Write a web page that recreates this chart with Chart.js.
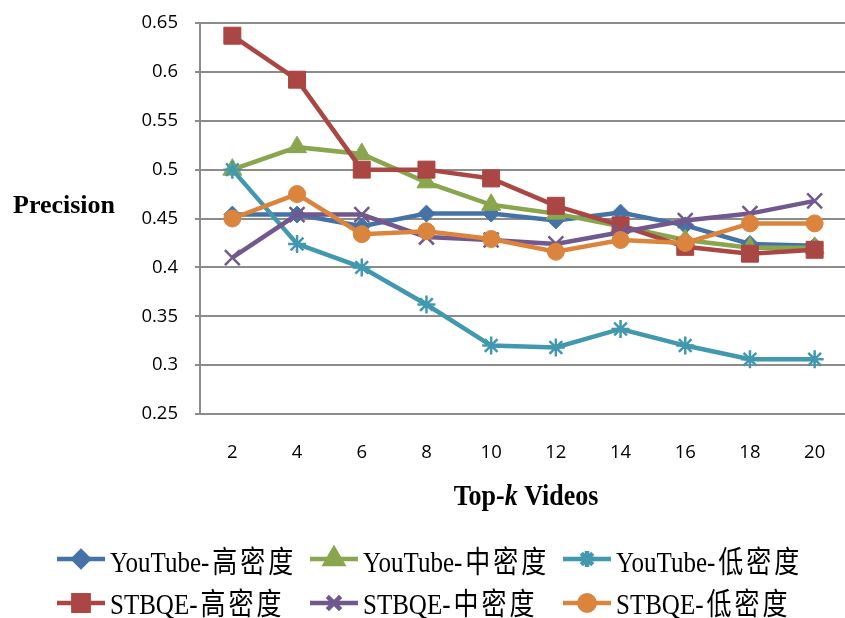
<!DOCTYPE html>
<html>
<head>
<meta charset="utf-8">
<script src="https://cdn.jsdelivr.net/npm/chart.js@4/dist/chart.umd.min.js"></script>
<style>
  html, body { margin: 0; padding: 0; background: #fff; overflow: hidden; }
  #wrap { width: 845px; height: 618px; overflow: hidden; }
  canvas { display: block; }
</style>
</head>
<body>
<div id="wrap"><canvas id="c" width="860" height="618" style="width:860px;height:618px"></canvas></div>
<script>
// Top-k values on the horizontal axis
const kValues = ['2', '4', '6', '8', '10', '12', '14', '16', '18', '20'];

// Precision for each method / density
const youtubeHigh = [0.454, 0.454, 0.442, 0.455, 0.455, 0.448, 0.456, 0.443, 0.424, 0.422];
const youtubeMid  = [0.500, 0.523, 0.516, 0.487, 0.464, 0.455, 0.442, 0.428, 0.420, 0.420];
const youtubeLow  = [0.500, 0.424, 0.400, 0.362, 0.320, 0.318, 0.337, 0.320, 0.306, 0.306];
const stbqeHigh   = [0.637, 0.592, 0.500, 0.500, 0.491, 0.463, 0.443, 0.421, 0.414, 0.418];
const stbqeMid    = [0.410, 0.454, 0.454, 0.431, 0.428, 0.424, 0.436, 0.448, 0.455, 0.468];
const stbqeLow    = [0.450, 0.475, 0.434, 0.437, 0.429, 0.416, 0.428, 0.425, 0.445, 0.445];

// Series names
const seriesNames = ['YouTube-高密度', 'YouTube-中密度', 'YouTube-低密度', 'STBQE-高密度', 'STBQE-中密度', 'STBQE-低密度'];

// Y axis range
const yMin = 0.25, yMax = 0.65, yStep = 0.05;

const styles = [
  { color: '#4572A7', pointStyle: 'rectRot',  radius: 8.5, fill: true },
  { color: '#89A54E', pointStyle: 'triangle', radius: 11,  fill: true },
  { color: '#4198AF', pointStyle: 'star',     radius: 9,   fill: false },
  { color: '#AA4643', pointStyle: 'rect',     radius: 12,  fill: true },
  { color: '#71588F', pointStyle: 'crossRot', radius: 10.5, fill: false },
  { color: '#DB843D', pointStyle: 'circle',   radius: 8.5, fill: true }
];
const seriesData = [youtubeHigh, youtubeMid, youtubeLow, stbqeHigh, stbqeMid, stbqeLow];

const datasets = seriesData.map((d, i) => ({
  label: seriesNames[i],
  data: d,
  borderColor: styles[i].color,
  backgroundColor: styles[i].color,
  borderWidth: 4.5,
  tension: 0,
  pointStyle: styles[i].pointStyle,
  pointRadius: styles[i].radius,
  pointBackgroundColor: styles[i].color,
  pointBorderColor: styles[i].color,
  pointBorderWidth: styles[i].fill ? 1 : 2.5,
  pointHoverRadius: styles[i].radius,
  order: seriesData.length - i   // later series drawn on top
}));

const serif = "'Liberation Serif', 'Times New Roman', 'Noto Sans CJK SC', serif";

// Axis titles and a three-column legend
const decorations = {
  id: 'decorations',
  afterDraw(chart) {
    const ctx = chart.ctx;
    ctx.save();
    ctx.fillStyle = '#000';
    ctx.textBaseline = 'alphabetic';

    // y-axis title, written horizontally
    ctx.font = "bold 26px " + serif;
    ctx.textAlign = 'left';
    ctx.fillText('Precision', 13, 213);

    // x-axis title with italic k
    const parts = [
      { t: 'Top-', f: "bold 26px " + serif },
      { t: 'k', f: "italic bold 26px " + serif },
      { t: ' Videos', f: "bold 26px " + serif }
    ];
    let total = 0;
    parts.forEach(p => { ctx.font = p.f; p.w = ctx.measureText(p.t).width; total += p.w; });
    let x = 526 - total / 2;
    ctx.save();
    ctx.translate(0, 505);
    ctx.scale(1, 1.12);
    parts.forEach(p => { ctx.font = p.f; ctx.fillText(p.t, x, 0); x += p.w; });
    ctx.restore();

    // legend
    const colX = [57, 310, 563];
    const rowLineY = [559, 603];
    const rowBase = [572, 614];
    chart.data.datasets.forEach((ds, i) => {
      const col = i % 3, row = Math.floor(i / 3);
      const x0 = colX[col], ly = rowLineY[row];
      ctx.strokeStyle = ds.borderColor;
      ctx.lineWidth = 4.5;
      ctx.lineCap = 'butt';
      ctx.beginPath();
      ctx.moveTo(x0, ly);
      ctx.lineTo(x0 + 48, ly);
      ctx.stroke();
      ctx.fillStyle = ds.pointBackgroundColor;
      ctx.strokeStyle = ds.pointBorderColor;
      Chart.helpers.drawPoint(ctx, {
        pointStyle: ds.pointStyle,
        radius: ds.pointRadius * 0.9,
        borderWidth: ds.pointBorderWidth,
        rotation: 0
      }, x0 + 24, ly);

      // label: latin prefix, then the CJK part with a little tracking
      const dash = ds.label.indexOf('-') + 1;
      const latin = ds.label.slice(0, dash);
      const cjk = ds.label.slice(dash);
      ctx.fillStyle = '#000';
      ctx.font = "25px " + serif;
      ctx.save();
      ctx.translate(x0 + 53, rowBase[row]);
      ctx.scale(1, 1.2);
      ctx.letterSpacing = '0px';
      ctx.fillText(latin, 0, 0);
      const lw = ctx.measureText(latin).width;
      ctx.letterSpacing = '3px';
      ctx.fillText(cjk, lw + 3, 0);
      ctx.restore();
    });
    ctx.restore();
  }
};

new Chart(document.getElementById('c'), {
  type: 'line',
  data: { labels: kValues, datasets },
  plugins: [decorations],
  options: {
    responsive: false,
    animation: false,
    events: [],
    layout: { padding: { top: 23, right: 7, left: 0, bottom: 0 } },
    plugins: { legend: { display: false }, tooltip: { enabled: false } },
    scales: {
      x: {
        type: 'category',
        offset: true,
        grid: { display: false, drawTicks: false },
        border: { display: true, color: '#8c8c8c', width: 2 },
        ticks: {
          color: '#000',
          font: { family: "'Open Sans', sans-serif", size: 18.5 },
          padding: 28,
          maxRotation: 0,
          autoSkip: false
        },
        afterFit(scale) { scale.height = 204; }
      },
      y: {
        min: yMin,
        max: yMax,
        grid: { color: '#8c8c8c', lineWidth: 2, drawTicks: true, tickLength: 5 },
        border: { display: true, color: '#8c8c8c', width: 2 },
        ticks: {
          stepSize: yStep,
          color: '#000',
          font: { family: "'Open Sans', sans-serif", size: 18.5 },
          padding: 17,
          callback: v => String(Number(v.toFixed(2)))
        },
        afterFit(scale) {
          scale.width = 200;
          scale.paddingTop = 0;
          scale.paddingBottom = 0;
        }
      }
    }
  }
});
</script>
</body>
</html>
